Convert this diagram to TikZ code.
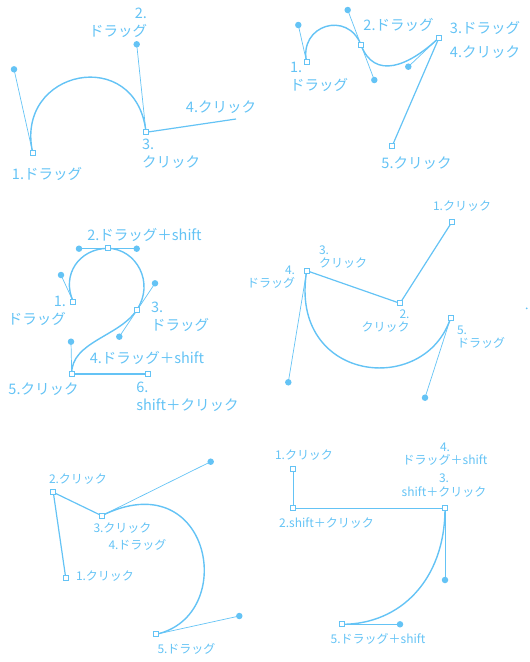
\documentclass[tikz,border=0pt]{standalone}
\usepackage{fontspec}
\setmainfont{Noto Sans CJK JP}
\usepackage{xcolor}
\usepackage{tikz}
\definecolor{penblue}{RGB}{100,195,245}
\pgfdeclarelayer{background}
\pgfsetlayers{background,main}

\begin{document}
\begin{tikzpicture}[x=1pt, y=-1pt]
            \tikzstyle{anchorpt} = [draw=penblue, fill=white, line width=0.8pt, minimum size=5pt, inner sep=0pt, rectangle]
            \tikzstyle{handledot} = [fill=penblue, circle, minimum size=6.5pt, inner sep=0pt]
            \tikzstyle{curve} = [draw=penblue, line width=1.4pt]
            \tikzstyle{segment} = [draw=penblue, line width=1.2pt]
            \tikzstyle{handle} = [draw=penblue, line width=0.7pt]
            \tikzstyle{biglabel} = [text=penblue, font=\fontsize{14.5}{18}\selectfont, inner sep=0pt]
            \tikzstyle{smalllabel} = [text=penblue, font=\fontsize{12}{13.5}\selectfont, inner sep=0pt]
            \useasboundingbox (0,0) rectangle (530,662);

            % panel 1
            \node [anchorpt] (P1a1) at (32.7,152.7) {};
            \node [anchorpt] (P1a3) at (146,132.3) {};
            \node [handledot] (P1h1) at (14,69.3) {};
            \node [handledot] (P1h2) at (136.7,44.3) {};
            \coordinate (P1a4) at (236,119);
            \node [biglabel, align=right] (P1l2) at (118,23) {2.\\ドラッグ};
            \node [biglabel] (P1l4) at (221,107) {4.クリック};
            \node [biglabel, align=left] (P1l3) at (171,154) {3.\\クリック};
            \node [biglabel] (P1l1) at (47,174) {1.ドラッグ};

            % panel 2
            \node [anchorpt] (P2a1) at (306.7,62.3) {};
            \node [anchorpt] (P2a2) at (361,45) {};
            \node [anchorpt] (P2a3) at (439,37.7) {};
            \node [anchorpt] (P2a5) at (392.3,145.7) {};
            \node [handledot] (P2h1) at (298.3,25) {};
            \node [handledot] (P2h2) at (347.7,10) {};
            \node [handledot] (P2h3) at (374.3,80) {};
            \node [handledot] (P2h4) at (408.3,66.7) {};
            \node [biglabel] (P2l2) at (398.5,25) {2.ドラッグ};
            \node [biglabel] (P2l3) at (485,28) {3.ドラッグ};
            \node [biglabel] (P2l4) at (485,52) {4.クリック};
            \node [biglabel, align=left] (P2l1) at (319,77) {1.\\ドラッグ};
            \node [biglabel] (P2l5) at (416.5,163) {5.クリック};

            % panel 3
            \node [anchorpt] (P3a1) at (73.3,301.7) {};
            \node [anchorpt] (P3a2) at (107.7,248.3) {};
            \node [anchorpt] (P3a3) at (136.7,310) {};
            \node [anchorpt] (P3a5) at (71.7,374) {};
            \node [anchorpt] (P3a6) at (147.7,374) {};
            \node [handledot] (P3h1) at (61,275) {};
            \node [handledot] (P3h2) at (79,248.7) {};
            \node [handledot] (P3h3) at (136.7,248.7) {};
            \node [handledot] (P3h4) at (155,283.3) {};
            \node [handledot] (P3h5) at (119.3,336.7) {};
            \node [handledot] (P3h6) at (71,341.7) {};
            \node [biglabel] (P3l2) at (144.5,235) {2.ドラッグ＋shift};
            \node [biglabel, align=right] (P3l1) at (37,311) {1.\\ドラッグ};
            \node [biglabel, align=left] (P3l3) at (180,317) {3.\\ドラッグ};
            \node [biglabel] (P3l4) at (147,357.7) {4.ドラッグ＋shift};
            \node [biglabel] (P3l5) at (43.5,389) {5.クリック};
            \node [biglabel, align=left] (P3l6) at (187.5,396.5) {6.\\shift＋クリック};

            % panel 4
            \node [anchorpt] (P4a1) at (451.7,222.3) {};
            \node [anchorpt] (P4a2) at (400,303.3) {};
            \node [anchorpt] (P4a3) at (306.7,270.7) {};
            \node [anchorpt] (P4a5) at (450.7,317.7) {};
            \node [handledot] (P4h1) at (288.3,382.3) {};
            \node [handledot] (P4h2) at (425,397.7) {};
            \node [fill=penblue, circle, minimum size=2pt, inner sep=0pt] (P4dot) at (526.7,308.3) {};
            \node [smalllabel] (P4l1) at (462,206) {1.クリック};
            \node [smalllabel, align=left] (P4l3) at (343,257) {3.\\クリック};
            \node [smalllabel, align=right] (P4l4) at (271,277) {4.\\ドラッグ};
            \node [smalllabel, align=right] (P4l2) at (385.5,321) {2.\\クリック};
            \node [smalllabel, align=left] (P4l5) at (481,337) {5.\\ドラッグ};

            % panel 5
            \node [anchorpt] (P5a1) at (65.7,577.7) {};
            \node [anchorpt] (P5a2) at (53.3,492.3) {};
            \node [anchorpt] (P5a3) at (101.7,515.7) {};
            \node [anchorpt] (P5a5) at (156,634.3) {};
            \node [handledot] (P5h1) at (210.7,461.7) {};
            \node [handledot] (P5h2) at (239.3,616) {};
            \node [smalllabel] (P5l2) at (78,479.3) {2.クリック};
            \node [smalllabel] (P5l3) at (122.5,528.3) {3.クリック};
            \node [smalllabel] (P5l4) at (137.5,545) {4.ドラッグ};
            \node [smalllabel] (P5l1) at (105,576) {1.クリック};
            \node [smalllabel] (P5l5) at (186.5,649) {5.ドラッグ};

            % panel 6
            \node [anchorpt] (P6a1) at (293.3,469) {};
            \node [anchorpt] (P6a2) at (293.3,508.3) {};
            \node [anchorpt] (P6a3) at (445,508.3) {};
            \node [anchorpt] (P6a5) at (342.3,624.3) {};
            \node [handledot] (P6h1) at (445,580) {};
            \node [handledot] (P6h2) at (400,624.3) {};
            \node [smalllabel] (P6l1) at (304,455) {1.クリック};
            \node [smalllabel, align=center] (P6l4) at (445,454) {4.\\ドラッグ＋shift};
            \node [smalllabel, align=center] (P6l3) at (444,485.5) {3.\\shift＋クリック};
            \node [smalllabel] (P6l2) at (326.5,522.7) {2.shift＋クリック};
            \node [smalllabel] (P6l5) at (378,639) {5.ドラッグ＋shift};

            \begin{pgfonlayer}{background}
                % panel 1
                \draw [curve] (P1a1.center) .. controls (P1h1.center) and (P1h2.center) .. (P1a3.center);
                \draw [handle] (P1a1.center) -- (P1h1.center);
                \draw [handle] (P1a3.center) -- (P1h2.center);
                \draw [segment] (P1a3.center) -- (P1a4);
                % panel 2
                \draw [curve] (P2a1.center) .. controls (P2h1.center) and (P2h2.center) .. (P2a2.center);
                \draw [curve] (P2a2.center) .. controls (P2h3.center) and (P2h4.center) .. (P2a3.center);
                \draw [handle] (P2a1.center) -- (P2h1.center);
                \draw [handle] (P2h2.center) -- (P2h3.center);
                \draw [handle] (P2a3.center) -- (P2h4.center);
                \draw [segment] (P2a3.center) -- (P2a5.center);
                % panel 3
                \draw [curve] (P3a1.center) .. controls (P3h1.center) and (P3h2.center) .. (P3a2.center);
                \draw [curve] (P3a2.center) .. controls (P3h3.center) and (P3h4.center) .. (P3a3.center);
                \draw [curve] (P3a3.center) .. controls (P3h5.center) and (P3h6.center) .. (P3a5.center);
                \draw [handle] (P3a1.center) -- (P3h1.center);
                \draw [handle] (P3h2.center) -- (P3h3.center);
                \draw [handle] (P3h4.center) -- (P3h5.center);
                \draw [handle] (P3a5.center) -- (P3h6.center);
                \draw [segment] (P3a5.center) -- (P3a6.center);
                % panel 4
                \draw [segment] (P4a1.center) -- (P4a2.center) -- (P4a3.center);
                \draw [curve] (P4a3.center) .. controls (P4h1.center) and (P4h2.center) .. (P4a5.center);
                \draw [handle] (P4a3.center) -- (P4h1.center);
                \draw [handle] (P4a5.center) -- (P4h2.center);
                % panel 5
                \draw [segment] (P5a1.center) -- (P5a2.center) -- (P5a3.center);
                \draw [curve] (P5a3.center) .. controls (P5h1.center) and (P5h2.center) .. (P5a5.center);
                \draw [handle] (P5a3.center) -- (P5h1.center);
                \draw [handle] (P5a5.center) -- (P5h2.center);
                % panel 6
                \draw [segment] (P6a1.center) -- (P6a2.center) -- (P6a3.center);
                \draw [curve] (P6a3.center) .. controls (P6h1.center) and (P6h2.center) .. (P6a5.center);
                \draw [handle] (P6a3.center) -- (P6h1.center);
                \draw [handle] (P6a5.center) -- (P6h2.center);
            \end{pgfonlayer}
\end{tikzpicture}
\end{document}
